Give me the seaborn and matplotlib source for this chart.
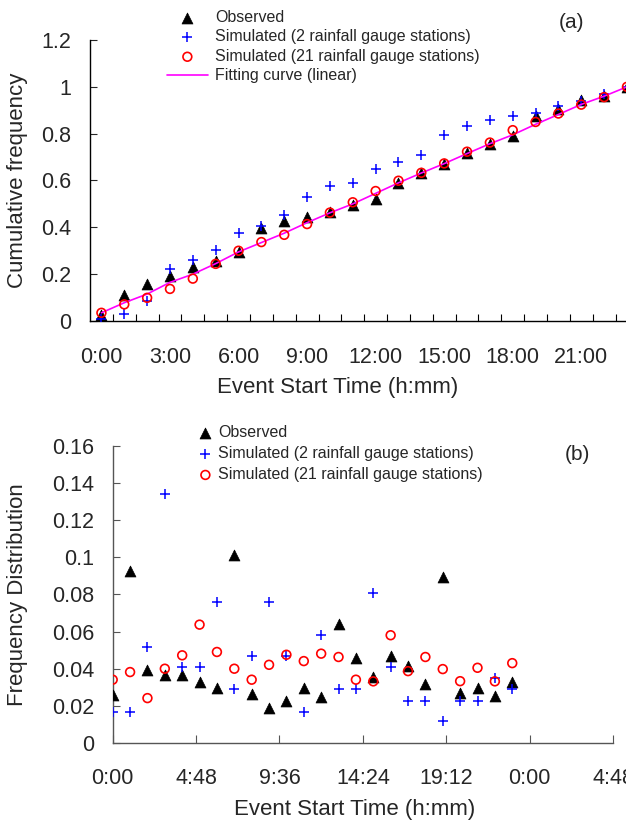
import numpy as np
import pandas as pd
import matplotlib
matplotlib.use("Agg")
import matplotlib.pyplot as plt
from matplotlib.ticker import FuncFormatter, MultipleLocator, FixedLocator
import seaborn as sns

sns.set_style("ticks")
plt.rcParams["font.family"] = ["Liberation Sans", "DejaVu Sans"]

hours = [0, 1, 2, 3, 4, 5, 6, 7, 8, 9, 10, 11, 12, 13, 14, 15, 16, 17, 18, 19, 20, 21, 22, 23]

# (a) cumulative frequency
cum_obs = [0.025, 0.113, 0.159, 0.191, 0.23, 0.255, 0.295, 0.397, 0.425, 0.443, 0.465, 0.496,
           0.521, 0.591, 0.63, 0.67, 0.716, 0.755, 0.79, 0.874, 0.907, 0.942, 0.96, 0.998]
cum_sim2 = [0.01, 0.031, 0.085, 0.22, 0.259, 0.305, 0.375, 0.404, 0.453, 0.531, 0.577, 0.591,
            0.648, 0.68, 0.708, 0.793, 0.832, 0.857, 0.876, 0.89, 0.917, 0.94, 0.97, 1.0]
cum_sim21 = [0.035, 0.071, 0.099, 0.137, 0.181, 0.244, 0.30, 0.337, 0.368, 0.414, 0.463, 0.507,
             0.555, 0.599, 0.633, 0.673, 0.723, 0.762, 0.815, 0.85, 0.886, 0.924, 0.956, 1.0]
cum_fit = [0.035, 0.078, 0.115, 0.165, 0.2, 0.245, 0.295, 0.335, 0.375, 0.42, 0.462, 0.5,
           0.545, 0.59, 0.632, 0.672, 0.715, 0.757, 0.795, 0.84, 0.882, 0.925, 0.96, 1.0]

# (b) frequency distribution
freq_obs = [0.0257, 0.0928, 0.0396, 0.0365, 0.0369, 0.0329, 0.0297, 0.101, 0.0266, 0.019, 0.023, 0.0298,
            0.0248, 0.0644, 0.046, 0.0356, 0.0467, 0.0413, 0.032, 0.0895, 0.027, 0.0298, 0.0252, 0.0327]
freq_sim2 = [0.017, 0.017, 0.052, 0.134, 0.041, 0.041, 0.076, 0.029, 0.047, 0.076, 0.047, 0.017,
             0.058, 0.029, 0.029, 0.081, 0.041, 0.023, 0.023, 0.012, 0.023, 0.023, 0.035, 0.029]
freq_sim21 = [0.0342, 0.0383, 0.0243, 0.0401, 0.0473, 0.0638, 0.0491, 0.0401, 0.0342, 0.0422, 0.0476, 0.0442,
              0.0482, 0.0464, 0.0342, 0.0333, 0.0581, 0.0388, 0.0464, 0.0399, 0.0334, 0.0406, 0.0333, 0.0431]

df = pd.DataFrame({"hour": hours, "cum_obs": cum_obs, "cum_sim2": cum_sim2, "cum_sim21": cum_sim21,
                   "cum_fit": cum_fit, "freq_obs": freq_obs, "freq_sim2": freq_sim2,
                   "freq_sim21": freq_sim21})
df["day"] = df["hour"] / 24.0

fig = plt.figure(figsize=(6.26, 8.21), dpi=100)
W, H = 626.0, 821.0
ax1 = fig.add_axes([90 / W, (H - 321) / H, 548.4 / W, 281 / H])
ax2 = fig.add_axes([112.7 / W, (H - 743.3) / H, 500.3 / W, 297.6 / H])

lab_obs = "Observed"
lab_s2 = "Simulated (2 rainfall gauge stations)"
lab_s21 = "Simulated (21 rainfall gauge stations)"

tri_kw = dict(marker="^", s=62, color="black", edgecolor="black", linewidth=0.5)
plus_kw = dict(marker="+", s=60, color="blue", linewidth=1.1)
circ_kw = dict(marker="o", s=40, color="red", facecolor="none", edgecolor="red", linewidth=1.2)

#-------(a)-------
sns.scatterplot(data=df, x="hour", y="cum_obs", label=lab_obs, ax=ax1, zorder=3, **tri_kw)
sns.scatterplot(data=df, x="hour", y="cum_sim2", label=lab_s2, ax=ax1, zorder=4, **plus_kw)
sns.scatterplot(data=df, x="hour", y="cum_sim21", label=lab_s21, ax=ax1, zorder=5, **circ_kw)
sns.lineplot(data=df, x="hour", y="cum_fit", color="#FF00FF", linewidth=1.2,
             label="Fitting curve (linear)", ax=ax1, zorder=4)

ax1.set_xlim(-0.5, 23.5)
ax1.set_ylim(0, 1.2)
ax1.xaxis.set_major_locator(FixedLocator([0, 3, 6, 9, 12, 15, 18, 21]))
ax1.xaxis.set_minor_locator(FixedLocator(np.arange(0.5, 23, 1)))
ax1.xaxis.set_major_formatter(FuncFormatter(lambda v, p: f"{int(round(v))}:00"))
ax1.yaxis.set_major_locator(MultipleLocator(0.2))
ax1.yaxis.set_major_formatter(FuncFormatter(lambda v, p: f"{v:g}"))
ax1.tick_params(axis="x", which="major", length=0, pad=19, labelsize=15.5)
ax1.tick_params(axis="x", which="minor", direction="in", length=5, width=0.8, color="black")
ax1.tick_params(axis="y", direction="in", length=5, width=0.8, pad=13.5, labelsize=15.5)
ax1.set_xlabel("Event Start Time (h:mm)", fontsize=16)
ax1.xaxis.set_label_coords(0.452, -0.238)
ax1.xaxis.label.set_va("center")
ax1.set_ylabel("Cumulative frequency", fontsize=16)
ax1.yaxis.label.set_va("center")
ax1.yaxis.set_label_coords((18 - 90) / 548.4, 0.5)
for sp in ["top", "right"]:
    ax1.spines[sp].set_visible(False)
for sp in ["left", "bottom"]:
    ax1.spines[sp].set_color("black")
    ax1.spines[sp].set_linewidth(1.0)

ax1.legend(loc="upper left", bbox_to_anchor=(167 / W, 1 - 10 / H), bbox_transform=fig.transFigure,
           frameon=False, fontsize=11.5, borderpad=0, borderaxespad=0, handlelength=2.55,
           handletextpad=0.45, labelspacing=0.28, scatterpoints=1)
fig.text(571 / W, 1 - 23 / H, "(a)", fontsize=15, ha="center", va="center")

#-------(b)-------
sns.scatterplot(data=df, x="day", y="freq_obs", label=lab_obs, ax=ax2, zorder=3, **tri_kw)
sns.scatterplot(data=df, x="day", y="freq_sim2", label=lab_s2, ax=ax2, zorder=4, **plus_kw)
sns.scatterplot(data=df, x="day", y="freq_sim21", label=lab_s21, ax=ax2, zorder=5, **circ_kw)


def day_fmt(v, p):
    m = int(round(v * 1440)) % 1440
    return f"{m // 60}:{m % 60:02d}"


ax2.set_xlim(0, 1.2)
ax2.set_ylim(0, 0.16)
ax2.xaxis.set_major_locator(FixedLocator([0, 0.2, 0.4, 0.6, 0.8, 1.0, 1.2]))
ax2.xaxis.set_major_formatter(FuncFormatter(day_fmt))
ax2.yaxis.set_major_locator(FixedLocator([0, 0.02, 0.04, 0.06, 0.08, 0.1, 0.12, 0.14, 0.16]))
ax2.yaxis.set_major_formatter(FuncFormatter(lambda v, p: f"{v:g}"))
ax2.tick_params(axis="x", direction="in", length=6, width=0.8, color="#555555", pad=17.5, labelsize=15.5)
ax2.tick_params(axis="y", direction="in", length=5, width=0.8, color="#555555", pad=13.5, labelsize=15.5)
ax2.set_xlabel("Event Start Time (h:mm)", fontsize=16)
ax2.xaxis.set_label_coords(0.484, -0.224)
ax2.xaxis.label.set_va("center")
ax2.set_ylabel("Frequency Distribution", fontsize=16)
ax2.yaxis.label.set_va("center")
ax2.yaxis.set_label_coords((18 - 112.7) / 500.3, 0.5)
for sp in ["top", "right"]:
    ax2.spines[sp].set_visible(False)
for sp in ["left", "bottom"]:
    ax2.spines[sp].set_color("#555555")
    ax2.spines[sp].set_linewidth(1.0)

ax2.legend(loc="upper left", bbox_to_anchor=(197.4 / W, 1 - 425 / H), bbox_transform=fig.transFigure,
           frameon=False, fontsize=11.5, borderpad=0, borderaxespad=0, handlelength=1.0,
           handletextpad=0.28, labelspacing=0.38, scatterpoints=1)
fig.text(577 / W, 1 - 454 / H, "(b)", fontsize=15, ha="center", va="center")

fig.savefig("out.png", dpi=100)
